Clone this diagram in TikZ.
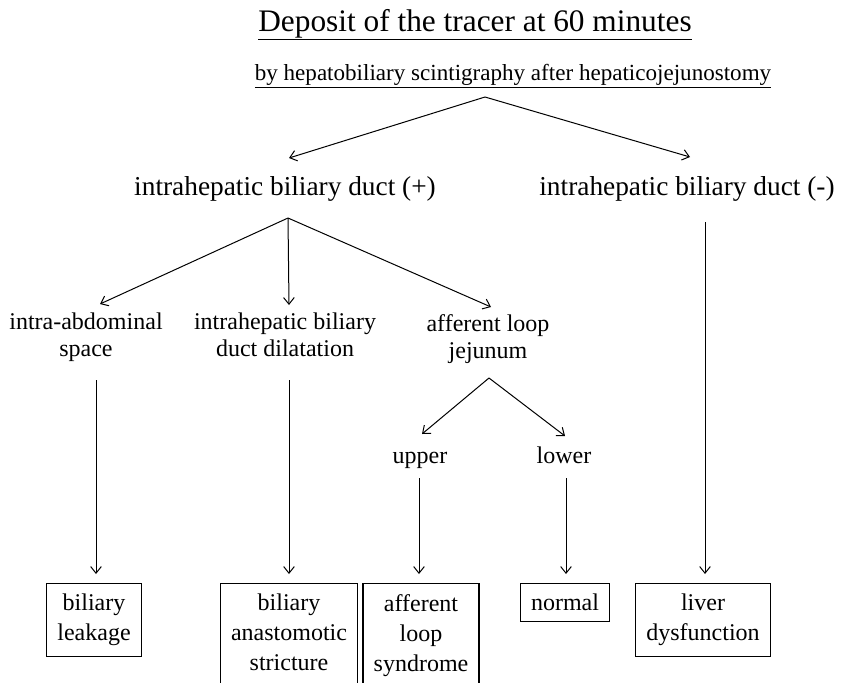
\documentclass[tikz,border=0pt]{standalone}
\usepackage{fontspec}
\setmainfont{Liberation Serif}
\usetikzlibrary{positioning,arrows.meta,calc}

\tikzset{
	lbl/.style={font=\fontsize{18}{20}\selectfont, align=center, anchor=base, inner sep=1pt},
	head/.style={font=\fontsize{20.5}{23}\selectfont, anchor=base, inner sep=1pt},
	res/.style={draw, line width=0.9pt, font=\fontsize{18}{22.5}\selectfont,
		align=center, anchor=north, inner xsep=8pt, inner ysep=8pt},
	arr/.style={-{Straight Barb[length=5pt,width=8pt]}, line width=0.75pt}
}

\begin{document}
\begin{tikzpicture}[x=0.75pt,y=-0.75pt]
	\useasboundingbox (0,0) rectangle (848,682);

	% Titles
	\node [font=\fontsize{23.5}{26}\selectfont, anchor=base] (title) at (475,31)
		{\underline{Deposit of the tracer at 60 minutes}};
	\node [font=\fontsize{17.3}{20}\selectfont, anchor=base] (sub) at (513,80)
		{\underline{by hepatobiliary scintigraphy after hepaticojejunostomy}};

	% Intrahepatic duct
	\node [head] (dplus) at (285,195) {intrahepatic biliary duct (+)};
	\node [head] (dminus) at (687,195) {intrahepatic biliary duct (-)};

	% Deposit site (base = last line)
	\node [lbl] (abd) at (86,356) {intra-abdominal\\space};
	\node [lbl] (dil) at (285,356) {intrahepatic biliary\\duct dilatation};
	\node [lbl] (aff) at (488,358) {afferent loop\\jejunum};

	% Upper / lower
	\node [lbl] (upper) at (420,463) {upper};
	\node [lbl] (lower) at (564,463) {lower};

	% Results
	\node [res] (leak) at (94,583) {biliary\\leakage};
	\node [res] (stric) at (289,583) {biliary\\anastomotic\\stricture\strut};
	\node [res] (syn) at (421,583) {afferent\\loop\\syndrome};
	\node [res] (norm) at (565,583) {normal};
	\node [res] (liver) at (703,583) {liver\\dysfunction};

	% Arrows
	\coordinate (split) at ($(sub.base)+(-28,17)$);
	\draw[arr] (split) -- ($(dplus.base)+(4,-37)$);
	\draw[arr] (split) -- ($(dminus.base)+(3,-38)$);
	\draw[arr] ($(dplus.base)+(3,23)$) -- ($(abd.base)+(14,-52)$);
	\draw[arr] ($(dplus.base)+(3,23)$) -- ($(dil.base)+(4,-51)$);
	\draw[arr] ($(dplus.base)+(3,23)$) -- ($(aff.base)+(3,-51)$);
	\draw[arr] ($(aff.base)+(1,20)$) -- ($(upper.base)+(2,-29)$);
	\draw[arr] ($(aff.base)+(1,20)$) -- ($(lower.base)+(1,-27)$);
	\draw[arr] ($(leak.north)+(2,-203)$) -- ($(leak.north)+(2,-9)$);
	\draw[arr] ($(stric.north)+(0,-203)$) -- ($(stric.north)+(0,-9)$);
	\draw[arr] ($(syn.north)+(-2,-105)$) -- ($(syn.north)+(-2,-9)$);
	\draw[arr] ($(norm.north)+(1,-105)$) -- ($(norm.north)+(1,-9)$);
	\draw[arr] ($(liver.north)+(2,-361)$) -- ($(liver.north)+(2,-9)$);

\end{tikzpicture}
\end{document}
